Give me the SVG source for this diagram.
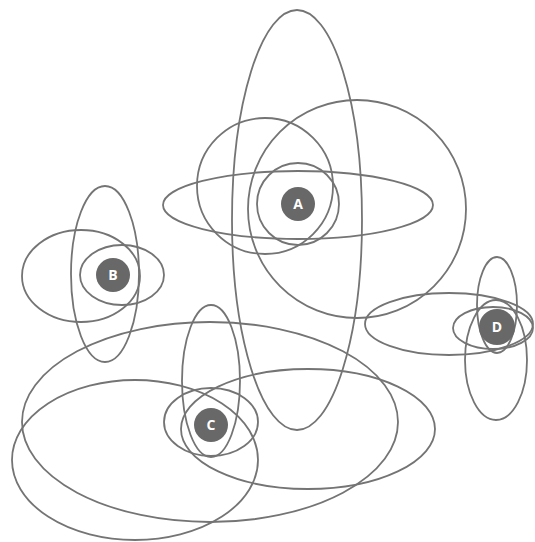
<svg xmlns="http://www.w3.org/2000/svg" width="535" height="542" viewBox="0 0 535 542">
<style>
.o{fill:none;stroke:#747474;stroke-width:1.8}
.d{fill:#686868}
.t{fill:#fff;font-family:"Open Sans","Liberation Sans",sans-serif;font-size:14px;font-weight:bold;text-anchor:middle}
</style>
<rect width="535" height="542" fill="#fff"/>
<g id="orbits">
<ellipse class="o" cx="297" cy="220" rx="65" ry="210"/>
<circle class="o" cx="357" cy="209" r="109"/>
<circle class="o" cx="265" cy="186" r="68"/>
<ellipse class="o" cx="298" cy="205" rx="135" ry="34"/>
<circle class="o" cx="298" cy="204" r="41"/>
<ellipse class="o" cx="105" cy="274" rx="34" ry="88"/>
<ellipse class="o" cx="81" cy="276" rx="59" ry="46"/>
<ellipse class="o" cx="122" cy="275" rx="42" ry="30"/>
<ellipse class="o" cx="210" cy="422" rx="188" ry="100"/>
<ellipse class="o" cx="135" cy="460" rx="123" ry="80"/>
<ellipse class="o" cx="308" cy="429" rx="127" ry="60"/>
<ellipse class="o" cx="211" cy="381" rx="29" ry="76"/>
<ellipse class="o" cx="211" cy="422" rx="47" ry="34"/>
<ellipse class="o" cx="449" cy="324" rx="84" ry="31"/>
<ellipse class="o" cx="497" cy="305" rx="20" ry="48"/>
<ellipse class="o" cx="496" cy="360" rx="31" ry="60"/>
<ellipse class="o" cx="493" cy="328" rx="40" ry="21"/>
</g>
<g id="A"><circle class="d" cx="298" cy="204" r="17"/><text class="t" x="298" y="209">A</text></g>
<g id="B"><circle class="d" cx="113" cy="275" r="17"/><text class="t" x="113" y="280">B</text></g>
<g id="C"><circle class="d" cx="211" cy="425" r="17"/><text class="t" x="211" y="430">C</text></g>
<g id="D"><circle class="d" cx="497" cy="327" r="18"/><text class="t" x="497" y="332">D</text></g>
</svg>
